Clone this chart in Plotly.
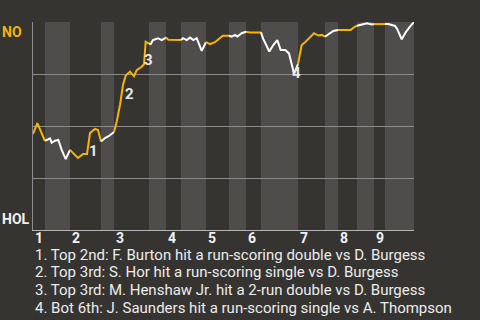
import plotly.graph_objects as go

# Game progress (arbitrary play-progress units) and NO win probability (%)
progress = [0, 4.3, 12, 17, 18.7, 22, 25.3, 28.7, 32.7, 37, 39.7, 45, 50, 54, 57, 62, 65, 68,
            72, 76, 81, 83.7, 87, 90, 92.7, 95, 97, 101, 103.7, 108.7, 111, 112.7, 115.3, 116,
            117.7, 120, 125, 128.7, 133, 135.3, 148, 150, 153.7, 157, 160.3, 163.7, 168.7, 172,
            173, 177, 182, 187, 189.7, 196, 198.7, 202, 204.3, 208.7, 213, 217, 228, 230, 236.3,
            240.3, 244.3, 247.7, 252.3, 256, 259.7, 261, 265, 268.7, 272, 277, 281, 285.3, 289,
            292, 295.3, 300.3, 305, 317.7, 322, 324, 328.7, 334, 339, 341, 352, 355.3, 362,
            364.3, 368.7, 373, 377, 381]
win_pct = [46.2, 51.4, 42.8, 44.0, 41.9, 42.9, 43.3, 38.5, 34.1, 38.5, 37.0, 34.6, 36.5, 36.5,
           46.6, 48.6, 48.1, 42.5, 44.2, 45.2, 47.1, 52.1, 60.1, 69.7, 74.3, 75.5, 76.1, 74.0,
           76.9, 78.5, 79.7, 90.5, 89.9, 89.6, 89.4, 91.3, 92.2, 91.3, 92.5, 91.5, 91.3, 92.2,
           91.3, 92.5, 91.3, 92.2, 86.1, 89.4, 90.3, 89.4, 90.3, 92.2, 93.4, 93.4, 93.0, 93.8,
           93.0, 94.6, 95.3, 95.0, 95.0, 92.1, 85.8, 88.9, 91.3, 86.5, 86.5, 84.9, 77.8, 75.0,
           79.8, 88.9, 90.2, 92.5, 94.6, 93.5, 93.8, 92.9, 94.1, 95.7, 96.2, 96.2, 97.8, 98.2,
           98.6, 99.4, 98.8, 99.0, 99.0, 99.0, 98.1, 96.5, 91.7, 95.3, 97.8, 100]

# Half-inning boundaries (top 1st, bottom 1st, top 2nd, ...)
half_bounds = [0, 12, 37, 68, 81, 116, 133, 148, 173, 196, 213, 228, 265, 292, 305, 324, 341, 352, 381]
inning_labels = ["1", "2", "3", "4", "5", "6", "7", "8", "9"]

# Key events: (label, progress of the play)
event_labels = ["1", "2", "3", "4"]
event_progress = [57, 90, 112.7, 261]
event_text = [
    "1. Top 2nd: F. Burton hit a run-scoring double vs D. Burgess",
    "2. Top 3rd: S. Hor hit a run-scoring single vs D. Burgess",
    "3. Top 3rd: M. Henshaw Jr. hit a 2-run double vs D. Burgess",
    "4. Bot 6th: J. Saunders hit a run-scoring single vs A. Thompson",
]
team_top = "NO"
team_bottom = "HOL"

BG = "#363431"
BAND = "#4e4d4b"
GOLD = "#f7b500"
WHITE = "#ffffff"
FONT = "Roboto"

fig = go.Figure()

# Line segments, colored by half inning
for i in range(len(half_bounds) - 1):
    a, b = half_bounds[i], half_bounds[i + 1]
    xs = [x for x in progress if a <= x <= b]
    ys = [y for x, y in zip(progress, win_pct) if a <= x <= b]
    fig.add_trace(go.Scatter(
        x=xs, y=ys, mode="lines",
        line=dict(color=GOLD if i % 2 == 0 else WHITE, width=2),
        hoverinfo="skip", showlegend=False))

shapes = []
for i in range(len(half_bounds) - 1):
    if i % 2 == 1:
        shapes.append(dict(type="rect", xref="x", yref="paper",
                           x0=half_bounds[i], x1=half_bounds[i + 1], y0=0, y1=1,
                           fillcolor=BAND, line=dict(width=0), layer="below"))

annotations = []
# Inning labels
for k, lab in enumerate(inning_labels):
    annotations.append(dict(x=half_bounds[2 * k], y=0, xref="x", yref="paper",
                            text=f"<b>{lab}</b>", showarrow=False, xanchor="left",
                            yanchor="middle", yshift=-7, xshift=0, height=13,
                            font=dict(family=FONT, size=14, color="#f2f2f2")))
# Team labels
annotations.append(dict(x=0, y=1, xref="paper", yref="paper", text=f"<b>{team_top}</b>",
                        showarrow=False, xanchor="right", yanchor="top", xshift=-9,
                        font=dict(family=FONT, size=14, color=GOLD)))
annotations.append(dict(x=0, y=0, xref="paper", yref="paper", text=f"<b>{team_bottom}</b>",
                        showarrow=False, xanchor="right", yanchor="bottom", xshift=-1, yshift=1,
                        font=dict(family=FONT, size=14, color="#f2f2f2")))
# Event markers
shifts = [(3, -18), (6, -9), (3, -18), (2, 1)]
for lab, xp, (dx, dy) in zip(event_labels, event_progress, shifts):
    yp = win_pct[progress.index(xp)]
    annotations.append(dict(x=xp, y=yp, xref="x", yref="y", text=f"<b>{lab}</b>",
                            showarrow=False, xshift=dx, yshift=dy,
                            font=dict(family=FONT, size=15, color="#e8e8e8")))
# Event descriptions
for j, t in enumerate(event_text):
    annotations.append(dict(x=0, y=0, xref="paper", yref="paper", text=t, showarrow=False,
                            xanchor="left", yanchor="middle", xshift=0, yshift=-24.5 - 17.8 * j,
                            font=dict(family=FONT, size=15, color="#ececec")))

fig.update_layout(
    width=480, height=320,
    margin=dict(l=33, r=66, t=22, b=90),
    paper_bgcolor=BG, plot_bgcolor=BG,
    xaxis=dict(range=[0, 381], showgrid=False, zeroline=False, showticklabels=False,
               showline=True, linecolor="#b4b4b4", linewidth=1, ticks=""),
    yaxis=dict(range=[0, 100], tickvals=[0, 25, 50, 75, 100], showticklabels=False,
               showgrid=True, gridcolor="#8c8c8c", gridwidth=1, zeroline=False,
               showline=True, linecolor="#8c8c8c", linewidth=1, ticks=""),
    shapes=shapes, annotations=annotations, showlegend=False,
)

fig.write_html("out.html")
